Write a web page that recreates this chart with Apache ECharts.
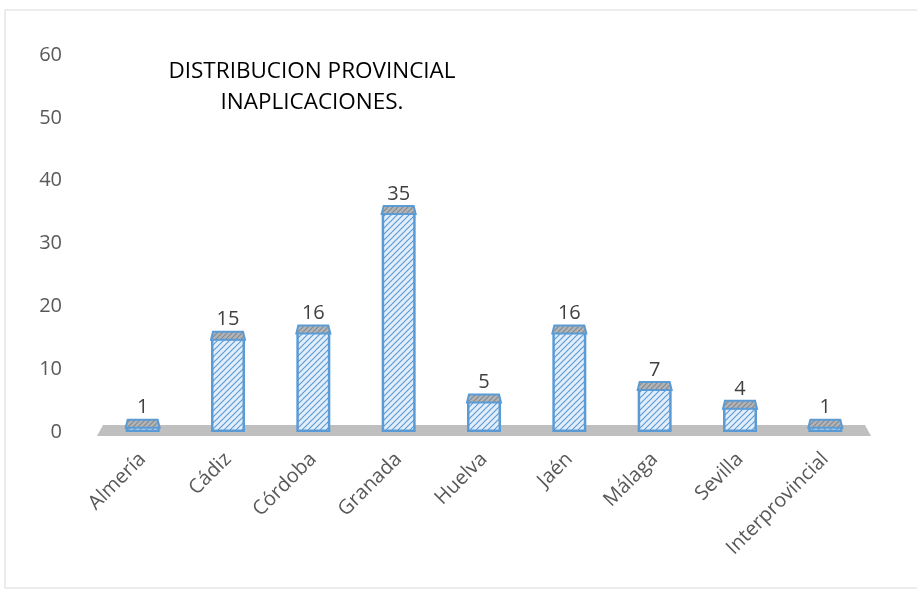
<!DOCTYPE html>
<html>
<head>
<meta charset="utf-8">
<script src="https://cdn.jsdelivr.net/npm/echarts@6/dist/echarts.min.js"></script>
<style>
  html, body { margin: 0; padding: 0; background: #fff; }
  #main { width: 917px; height: 591px; }
</style>
</head>
<body>
<div id="main"></div>
<script>
const provincias = ['Almería', 'Cádiz', 'Córdoba', 'Granada', 'Huelva', 'Jaén', 'Málaga', 'Sevilla', 'Interprovincial']
const inaplicaciones = [1, 15, 16, 35, 5, 16, 7, 4, 1]
const yTicks = [0, 10, 20, 30, 40, 50, 60]

// trama diagonal para las barras
function hatch(bg, line, size) {
  const c = document.createElement('canvas')
  c.width = size
  c.height = size
  const ctx = c.getContext('2d')
  ctx.fillStyle = bg
  ctx.fillRect(0, 0, size, size)
  ctx.strokeStyle = line
  ctx.lineWidth = 1.2
  ctx.beginPath()
  ctx.moveTo(0, size); ctx.lineTo(size, 0)
  ctx.moveTo(-size / 2, size / 2); ctx.lineTo(size / 2, -size / 2)
  ctx.moveTo(size / 2, size * 1.5); ctx.lineTo(size * 1.5, size / 2)
  ctx.stroke()
  return c
}
const frontFill = { image: hatch('#e3eefa', '#5b9bd5', 6), repeat: 'repeat' }
const topFill = { image: hatch('#b4b4b4', '#7f8a96', 5), repeat: 'repeat' }
const barW = 34

const chart = echarts.init(document.getElementById('main'))
chart.setOption({
  animation: false,
  title: {
    text: 'DISTRIBUCION PROVINCIAL\nINAPLICACIONES.',
    left: 307,
    top: 51,
    textAlign: 'center',
    textStyle: {
      fontFamily: 'Open Sans',
      fontWeight: 'normal',
      fontSize: 22.5,
      lineHeight: 31,
      color: '#000'
    }
  },
  graphic: [{
    type: 'rect',
    shape: { x: 5, y: 10, width: 940, height: 578 },
    style: { fill: 'none', stroke: '#d9d9d9', lineWidth: 1 },
    silent: true
  }],
  grid: { left: 100, right: 49, top: 55, bottom: 159 },
  xAxis: {
    type: 'category',
    data: provincias,
    axisLine: { show: false },
    axisTick: { show: false },
    axisLabel: {
      rotate: 45,
      margin: 24,
      fontFamily: 'Open Sans',
      fontSize: 20,
      color: '#595959'
    }
  },
  yAxis: {
    type: 'value',
    min: yTicks[0],
    max: yTicks[yTicks.length - 1],
    interval: 10,
    splitLine: { show: false },
    axisLine: { show: false },
    axisTick: { show: false },
    axisLabel: {
      margin: 38,
      fontFamily: 'Open Sans',
      fontSize: 20,
      color: '#595959'
    }
  },
  series: [
    {
      // suelo gris
      type: 'custom',
      silent: true,
      z: 1,
      data: [[0, 0]],
      renderItem: function (params, api) {
        const first = api.coord([0, 0])
        const last = api.coord([provincias.length - 1, 0])
        const band = api.size([1, 0])[0]
        const x0 = first[0] - band / 2
        const x1 = last[0] + band / 2
        const y = first[1]
        return {
          type: 'polygon',
          shape: { points: [[x0 - 3, y + 4], [x1 + 3, y + 4], [x1 - 3, y - 7], [x0 + 3, y - 7]] },
          style: { fill: '#bfbfbf' }
        }
      }
    },
    {
      type: 'bar',
      data: inaplicaciones,
      barWidth: barW,
      z: 3,
      itemStyle: {
        color: frontFill,
        borderColor: '#5b9bd5',
        borderWidth: 2.5
      },
      label: {
        show: true,
        position: 'top',
        distance: 8,
        fontFamily: 'Open Sans',
        fontSize: 20,
        color: '#404040'
      }
    },
    {
      // cara superior
      type: 'custom',
      silent: true,
      z: 4,
      data: inaplicaciones.map((v, i) => [i, v]),
      renderItem: function (params, api) {
        const p = api.coord([api.value(0), api.value(1)])
        const x = p[0]
        const y = p[1]
        const h = 6
        return {
          type: 'polygon',
          shape: { points: [[x - barW / 2, y + 2], [x + barW / 2, y + 2], [x + barW / 2 - 2, y - h], [x - barW / 2 + 2, y - h]] },
          style: { fill: topFill, stroke: '#5b9bd5', lineWidth: 2 }
        }
      }
    }
  ]
})
</script>
</body>
</html>
